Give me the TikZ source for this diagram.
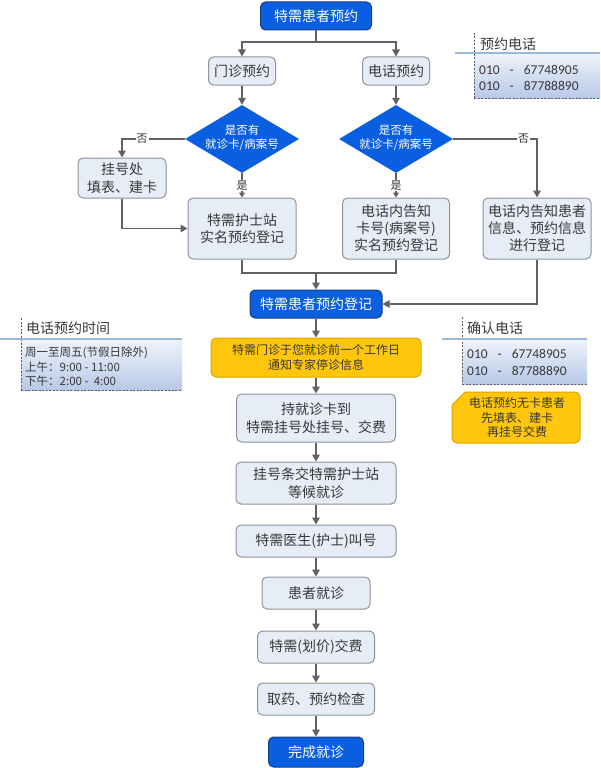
\documentclass[tikz,border=0pt]{standalone}
\usepackage{fontspec}
\setmainfont{Noto Sans CJK SC}
\newfontfamily\numfont{Carlito}
\usetikzlibrary{arrows.meta,shapes.geometric,positioning}
\definecolor{nblue}{HTML}{0A5FE1}
\definecolor{navy}{HTML}{1B3E7C}
\definecolor{gfill}{HTML}{E7EDF6}
\definecolor{gborder}{HTML}{8D939B}
\definecolor{gtext}{HTML}{383838}
\definecolor{lgray}{HTML}{616161}
\definecolor{yfill}{HTML}{FFC60B}
\definecolor{yborder}{HTML}{DDA500}
\definecolor{ptop}{HTML}{F0F4FB}
\definecolor{pbot}{HTML}{B7C8E7}
\definecolor{pline}{HTML}{9FB6DC}
\begin{document}
\begin{tikzpicture}[x=1pt,y=-1pt,
  base/.style={rounded corners=5pt, align=center, inner sep=0pt, line width=1pt},
  bluebox/.style={base, draw=navy, fill=nblue, text=white, font=\fontsize{14}{17}\selectfont},
  greybox/.style={base, draw=gborder, fill=gfill, text=gtext, font=\fontsize{14}{18}\selectfont},
  yelbox/.style={base, draw=yborder, fill=yfill, text=gtext, font=\fontsize{12}{15}\selectfont},
  dia/.style={diamond, fill=nblue, inner sep=0pt, minimum width=114pt, minimum height=68pt},
  diatext/.style={align=center, text=white, inner sep=0pt, font=\fontsize{11.5}{14}\selectfont},
  conn/.style={draw=lgray, line width=1.6pt},
  arr/.style={conn, -{Triangle[length=7pt,width=7.5pt]}},
  lab/.style={fill=white, inner sep=1pt, text=gtext, font=\fontsize{11}{12}\selectfont},
  ptitle/.style={anchor=west, inner sep=0pt, text=gtext, font=\fontsize{14}{16}\selectfont},
  ptext/.style={anchor=west, inner sep=0pt, text=gtext, font=\fontsize{11.5}{13}\selectfont},
  pnum/.style={anchor=west, inner sep=0pt, text=gtext, font=\numfont\fontsize{13.5}{15}\selectfont},
  pdash/.style={draw=lgray, line width=0.6pt, dash pattern=on 2pt off 1.5pt},
  pblue/.style={draw=pline, line width=2.2pt}
]
\useasboundingbox (0,0) rectangle (600,768);

% ---------- main flow nodes ----------
\node[bluebox, minimum width=111pt, minimum height=28pt] (n0) at (316,16) {特需患者预约};
\node[greybox, minimum width=67pt, minimum height=28pt] (mz) at (242,71) {门诊预约};
\node[greybox, minimum width=67pt, minimum height=28pt] (dh) at (396,71) {电话预约};
\node[dia] (d1) at (242,139) {};
\node[diatext] (d1t) at (242,138) {是否有\\就诊卡/病案号};
\node[dia] (d2) at (396,139) {};
\node[diatext] (d2t) at (396,138) {是否有\\就诊卡/病案号};
\node[greybox, minimum width=88pt, minimum height=40pt] (gh) at (122,178) {挂号处\\填表、建卡};
\node[greybox, minimum width=108pt, minimum height=61pt, font=\fontsize{14}{17}\selectfont] (b1) at (242,228.5) {特需护士站\\实名预约登记};
\node[greybox, minimum width=107pt, minimum height=61pt, font=\fontsize{14}{17}\selectfont] (b2) at (396,228.5) {电话内告知\\卡号(病案号)\\实名预约登记};
\node[greybox, minimum width=108pt, minimum height=61pt, font=\fontsize{14}{17}\selectfont] (b3) at (537,228.5) {电话内告知患者\\信息、预约信息\\进行登记};
\coordinate (j0) at (316,42);
\coordinate (j1) at (316,273);
\node[bluebox, minimum width=132pt, minimum height=28pt] (reg) at (316,304) {特需患者预约登记};
\node[yelbox, minimum width=210pt, minimum height=39pt] (yel) at (316,357.5) {特需门诊于您就诊前一个工作日\\通知专家停诊信息};
\node[greybox, minimum width=159pt, minimum height=48pt] (s1) at (316,418) {持就诊卡到\\特需挂号处挂号、交费};
\node[greybox, minimum width=160pt, minimum height=42pt] (s2) at (316,483) {挂号条交特需护士站\\等候就诊};
\node[greybox, minimum width=160pt, minimum height=32pt] (s3) at (316,541) {特需医生(护士)叫号};
\node[greybox, minimum width=108pt, minimum height=32pt] (s4) at (316,593) {患者就诊};
\node[greybox, minimum width=117pt, minimum height=32pt] (s5) at (316,647) {特需(划价)交费};
\node[greybox, minimum width=117pt, minimum height=32pt] (s6) at (316,699) {取药、预约检查};
\node[bluebox, minimum width=95pt, minimum height=30pt] (s7) at (316,752) {完成就诊};

% ---------- connectors ----------
\draw[conn] (n0.south) -- (j0);
\draw[arr] (j0) -| (mz.north);
\draw[arr] (j0) -| (dh.north);
\draw[arr] (mz.south) -- (d1.north);
\draw[arr] (dh.south) -- (d2.north);
\draw[arr] (d1.west) -| node[lab, pos=0.34] {否} (gh.north);
\draw[arr] (d2.east) -| node[lab, pos=0.42] {否} (b3.north);
\draw[arr, -{Triangle[length=5pt,width=6pt]}] (d1.south) -- node[lab] {是} (b1.north);
\draw[arr, -{Triangle[length=5pt,width=6pt]}] (d2.south) -- node[lab] {是} (b2.north);
\draw[arr] (gh.south) |- (b1.west);
\draw[conn] (b1.south) |- (j1);
\draw[conn] (b2.south) |- (j1);
\draw[arr] (j1) -- (reg.north);
\draw[arr] (b3.south) |- (reg.east);
\draw[arr] (reg.south) -- (yel.north);
\draw[arr] (yel.south) -- (s1.north);
\draw[arr] (s1.south) -- (s2.north);
\draw[arr] (s2.south) -- (s3.north);
\draw[arr] (s3.south) -- (s4.north);
\draw[arr] (s4.south) -- (s5.north);
\draw[arr] (s5.south) -- (s6.north);
\draw[arr] (s6.south) -- (s7.north);

% ---------- panel: 预约电话 ----------
\shade[top color=ptop, bottom color=pbot] (474,53) rectangle (600,98);
\draw[pdash] (474,98) -- (600,98);
\draw[pdash] (474,33) -- (474,98);
\draw[pblue] (455,53) -- (600,53);
\node[ptitle] (pa) at (480,44) {预约电话};
\node[pnum] (pa1) at (479,70) {010\hspace{10pt}-\hspace{10pt}67748905};
\node[pnum] (pa2) at (479,86) {010\hspace{10pt}-\hspace{10pt}87788890};

% ---------- panel: 确认电话 ----------
\shade[top color=ptop, bottom color=pbot] (462,339) rectangle (587,384);
\draw[pdash] (462,384) -- (587,384);
\draw[pdash] (462,317) -- (462,384);
\draw[pblue] (442,339) -- (587,339);
\node[ptitle] (pb) at (467,328) {确认电话};
\node[pnum] (pb1) at (467,354) {010\hspace{10pt}-\hspace{10pt}67748905};
\node[pnum] (pb2) at (467,371) {010\hspace{10pt}-\hspace{10pt}87788890};

% ---------- note ----------
\draw[draw=yborder, fill=yfill, line width=1pt] (452,405) -- (465,392) {[rounded corners=5pt] -- (580,392) -- (580,443) -- (452,443)} -- cycle;
\node[align=center, inner sep=0pt, text=gtext, font=\fontsize{12}{14.5}\selectfont] (note) at (517,417.5) {电话预约无卡患者\\先填表、建卡\\再挂号交费};

% ---------- panel: 电话预约时间 ----------
\shade[top color=ptop, bottom color=pbot] (21,339) rectangle (182,390);
\draw[pdash] (21,390) -- (182,390);
\draw[pdash] (21,318) -- (21,390);
\draw[pblue] (0,339) -- (182,339);
\node[ptitle] (pc) at (26,328) {电话预约时间};
\node[ptext] (pc1) at (25,353) {周一至周五(节假日除外)};
\node[ptext] (pc2) at (25,367) {上午：9:00 - 11:00};
\node[ptext] (pc3) at (25,381) {下午：2:00 -\ \ 4:00};
\end{tikzpicture}
\end{document}
